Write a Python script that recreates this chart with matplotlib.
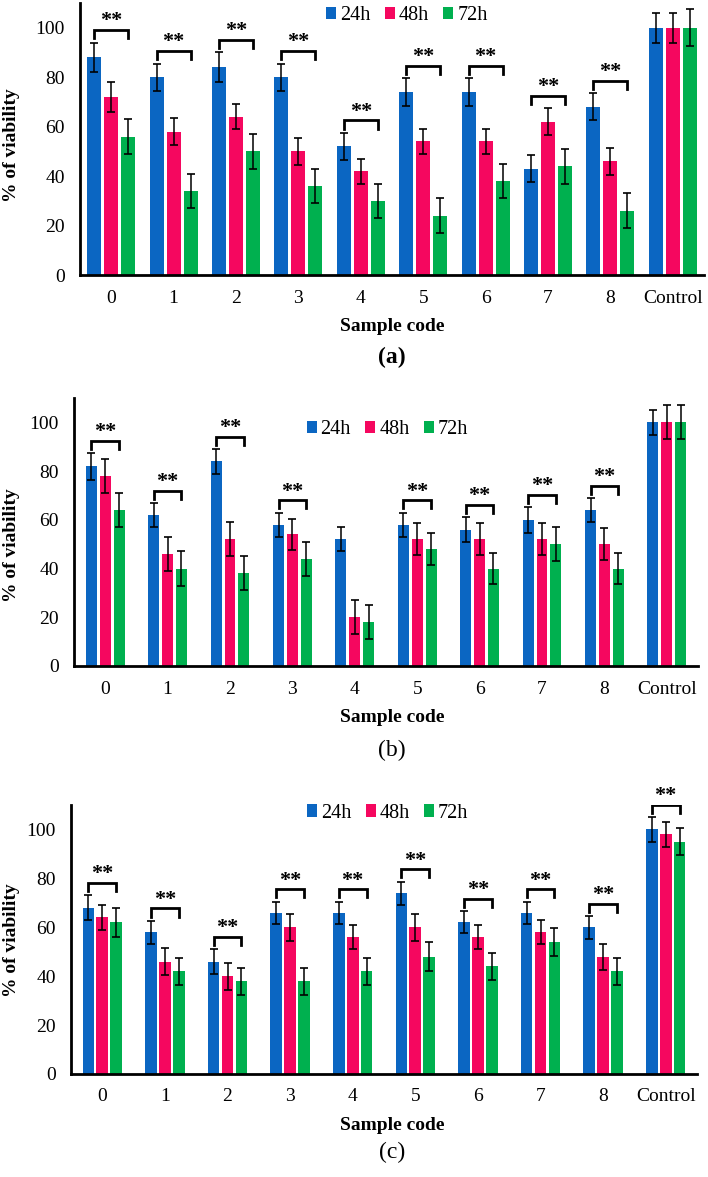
import matplotlib
matplotlib.use("Agg")
import matplotlib.pyplot as plt
import numpy as np

plt.rcParams['font.family'] = ['Liberation Serif', 'DejaVu Serif']

categories = ['0', '1', '2', '3', '4', '5', '6', '7', '8', 'Control']
series = ['24h', '48h', '72h']
colors = ['#0B66C2', '#F5075F', '#00B04F']

# panel (a)
a_24 = [88, 80, 84, 80, 52, 74, 74, 43, 68, 100]
a_48 = [72, 58, 64, 50, 42, 54, 54, 62, 46, 100]
a_72 = [56, 34, 50, 36, 30, 24, 38, 44, 26, 100]
a_err24 = [6, 5.5, 6, 5.5, 5.5, 5.5, 5.5, 5.5, 5.5, 6]
a_err48 = [6, 5.5, 5, 5.5, 5, 5, 5, 5.5, 5.5, 6]
a_err72 = [7, 7, 7, 7, 7, 7, 7, 7, 7, 7.5]
a_sig = [1, 1, 1, 1, 1, 1, 1, 1, 1, 0]

# panel (b)
b_24 = [82, 62, 84, 58, 52, 58, 56, 60, 64, 100]
b_48 = [78, 46, 52, 54, 20, 52, 52, 52, 50, 100]
b_72 = [64, 40, 38, 44, 18, 48, 40, 50, 40, 100]
b_err24 = [5.5, 5, 5, 5, 5, 5, 5, 5.3, 5, 5]
b_err48 = [7, 7, 7, 6.5, 7, 6.5, 6.5, 6.5, 6.5, 7]
b_err72 = [7, 7, 7, 7, 7, 6.5, 6.5, 7, 6.5, 7]
b_sig = [1, 1, 1, 1, 0, 1, 1, 1, 1, 0]

# panel (c)
c_24 = [68, 58, 46, 66, 66, 74, 62, 66, 60, 100]
c_48 = [64, 46, 40, 60, 56, 60, 56, 58, 48, 98]
c_72 = [62, 42, 38, 38, 42, 48, 44, 54, 42, 95]
c_err24 = [5, 4.7, 5, 4.5, 4.5, 4.7, 4.5, 4.5, 4.7, 5]
c_err48 = [5, 5.5, 5.5, 5.5, 5, 5.5, 5, 5, 5.3, 5]
c_err72 = [6, 5.5, 5.5, 5.5, 5.5, 6, 5.6, 5.6, 5.5, 5.5]
c_sig = [1, 1, 1, 1, 1, 1, 1, 1, 1, 1]

W, H = 708, 1177
fig = plt.figure(figsize=(W / 100, H / 100), dpi=100)


def px_axes(left, right, top, bottom):
    return fig.add_axes([left / W, 1 - bottom / H, (right - left) / W, (bottom - top) / H])


panels = [
    dict(box=(80, 704, 3, 275), vals=[a_24, a_48, a_72], errs=[a_err24, a_err48, a_err72],
         sig=a_sig, width=0.225, off=0.272, leg=(0.524, 0.955), tag='(a)', tagbold=True,
         ylab=145, xlab=327, tagy=357, xpad=11),
    dict(box=(74, 698, 398, 666), vals=[b_24, b_48, b_72], errs=[b_err24, b_err48, b_err72],
         sig=b_sig, width=0.175, off=0.222, leg=(0.502, 0.881), tag='(b)', tagbold=False,
         ylab=545, xlab=717, tagy=750, xpad=11),
    dict(box=(71, 697, 805, 1074), vals=[c_24, c_48, c_72], errs=[c_err24, c_err48, c_err72],
         sig=c_sig, width=0.186, off=0.222, leg=(0.506, 0.970), tag='(c)', tagbold=False,
         ylab=940, xlab=1125, tagy=1152, xpad=10),
]

x = np.arange(len(categories))
for p in panels:
    ax = px_axes(*p['box'])
    tops = np.zeros(len(categories))
    for i, (name, v, e, c) in enumerate(zip(series, p['vals'], p['errs'], colors)):
        xi = x + (i - 1) * p['off']
        ax.bar(xi, v, width=p['width'], color=c, label=name, zorder=2)
        ax.errorbar(xi, v, yerr=e, fmt='none', ecolor='black', elinewidth=1.1,
                    capsize=2.8, capthick=1.2, zorder=3)
        tops = np.maximum(tops, np.array(v) + np.array(e))
    for k, s in enumerate(p['sig']):
        if not s:
            continue
        yb = tops[k] + 5
        x0, x1 = x[k] - p['off'], x[k] + p['off']
        ax.plot([x0, x0, x1, x1], [yb - 3.3, yb, yb, yb - 3.3], color='black', lw=2,
                solid_joinstyle='miter', zorder=4)
        ax.text(x[k], yb - 0.5, '**', ha='center', va='bottom', fontsize=16,
                fontweight='bold')
    ax.set_xlim(-0.5, len(categories) - 0.5)
    ax.set_ylim(0, 110)
    ax.set_yticks([0, 20, 40, 60, 80, 100])
    ax.set_xticks(x)
    ax.set_xticklabels(categories)
    ax.tick_params(axis='both', length=0, labelsize=14)
    ax.tick_params(axis='y', pad=11)
    ax.tick_params(axis='x', pad=p['xpad'])
    for sp in ['top', 'right']:
        ax.spines[sp].set_visible(False)
    for sp in ['left', 'bottom']:
        ax.spines[sp].set_linewidth(2)
    ax.legend(loc='center', bbox_to_anchor=p['leg'], ncol=3, frameon=False,
              handlelength=0.5, handleheight=0.55, handletextpad=0.2,
              columnspacing=0.7, fontsize=14.5)
    fig.text(12 / W, 1 - p['ylab'] / H, '% of viability', rotation=90, ha='center',
             va='center', fontsize=14, fontweight='bold')
    fig.text(392 / W, 1 - p['xlab'] / H, 'Sample code', ha='center', va='center',
             fontsize=14, fontweight='bold')
    fig.text(392 / W, 1 - p['tagy'] / H, p['tag'], ha='center', va='center',
             fontsize=17, fontweight='bold' if p['tagbold'] else 'normal')

fig.savefig('out.png', dpi=100)
